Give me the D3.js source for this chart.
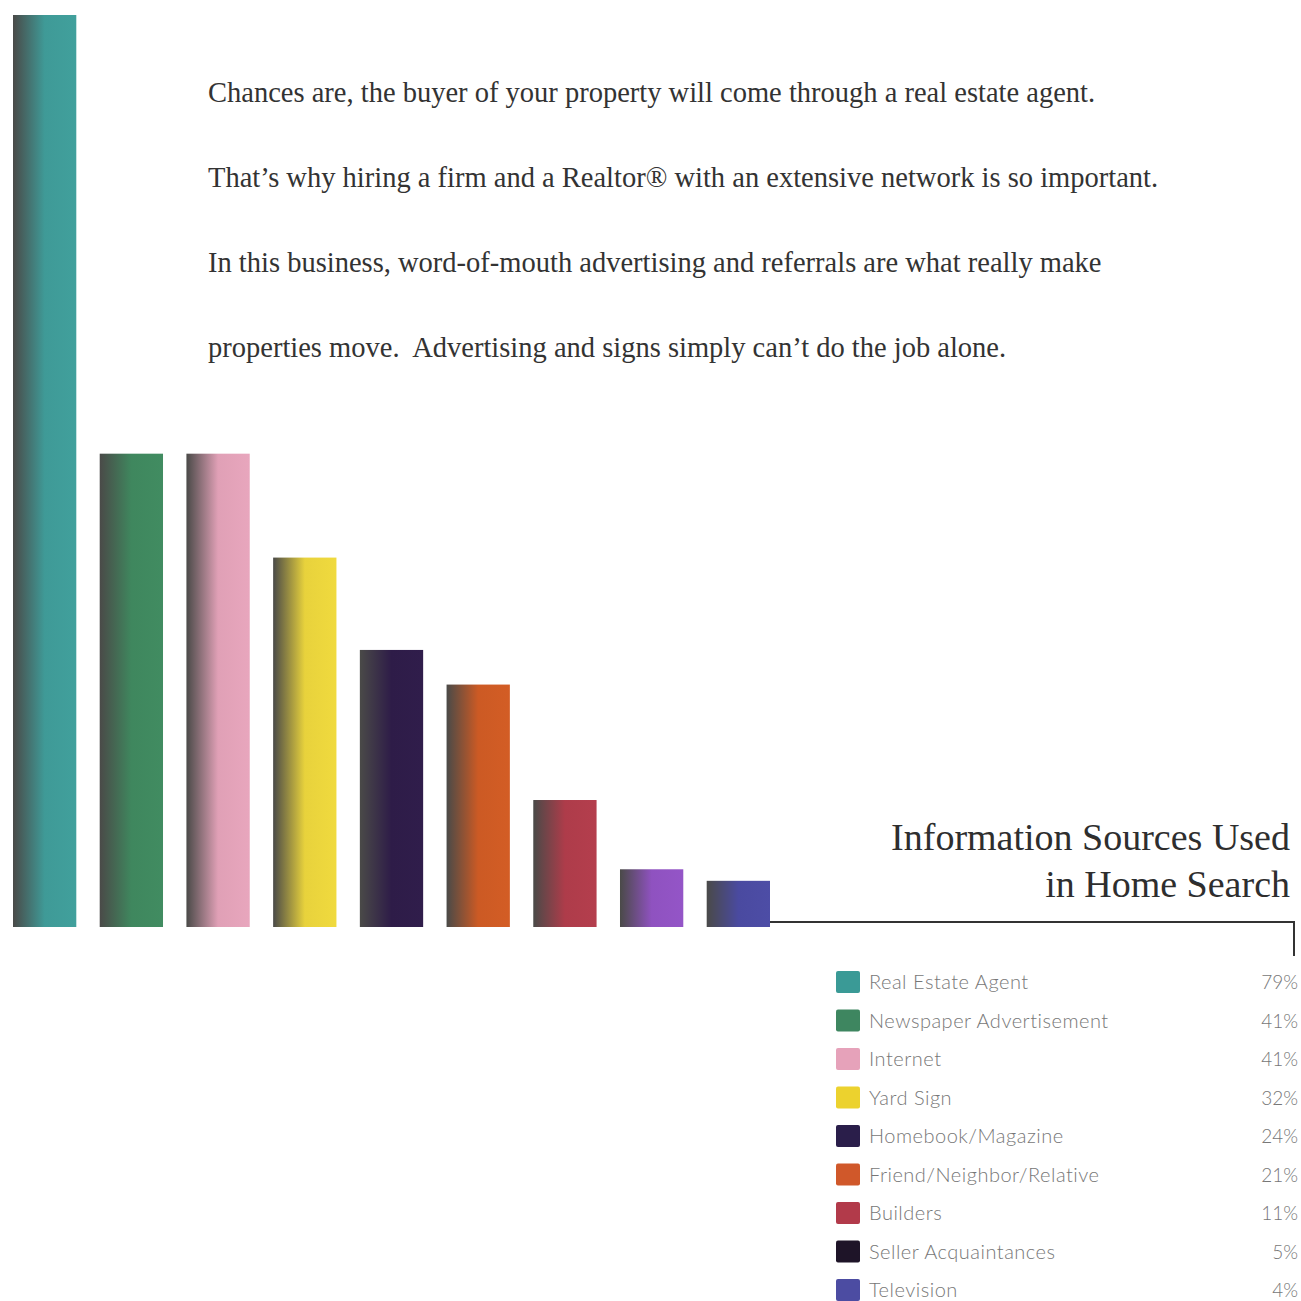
<!DOCTYPE html>
<html>
<head>
<meta charset="utf-8">
<script src="https://cdn.jsdelivr.net/npm/d3@7"></script>
<style>
  body { margin: 0; background: #fff; }
  svg { display: block; }
</style>
</head>
<body>
<svg width="1301" height="1301"></svg>
<script>
// data
const sources = ['Real Estate Agent', 'Newspaper Advertisement', 'Internet', 'Yard Sign',
  'Homebook/Magazine', 'Friend/Neighbor/Relative', 'Builders', 'Seller Acquaintances', 'Television'];
const percents = [79, 41, 41, 32, 24, 21, 11, 5, 4];
const barColors = ['#3f9a97', '#3f875e', '#e0a0b6', '#e8d23c', '#2e1c48', '#cc5a24', '#ae3c4a', '#8f52c0', '#4a4aa0'];
const swatchColors = ['#3a9a96', '#3e8660', '#e6a2ba', '#ecd22e', '#2a1e4a', '#d0582a', '#b23a4a', '#1e1428', '#4c4ca2'];
const paragraph = [
  'Chances are, the buyer of your property will come through a real estate agent.',
  'That\u2019s why hiring a firm and a Realtor\u00AE with an extensive network is so important.',
  'In this business, word-of-mouth advertising and referrals are what really make',
  'properties move.  Advertising and signs simply can\u2019t do the job alone.'
];
const titleLines = ['Information Sources Used', 'in Home Search'];

const svg = d3.select('svg');

const x = d3.scaleBand().domain(sources).range([13, 770]).paddingInner(0.27).paddingOuter(0);
const y = d3.scaleLinear().domain([0, 79]).range([927, 15]);

// gradients: dark gray on the left fading into the bar colour
const defs = svg.append('defs');
const grads = defs.selectAll('linearGradient')
  .data(barColors)
  .join('linearGradient')
  .attr('id', (d, i) => 'g' + i)
  .attr('x1', '0%').attr('x2', '100%').attr('y1', '0%').attr('y2', '0%');
grads.append('stop').attr('offset', '0%').attr('stop-color', '#4a4a48');
grads.append('stop').attr('offset', '50%').attr('stop-color', (d) => d);
grads.append('stop').attr('offset', '100%').attr('stop-color', (d) => d3.color(d).brighter(0.1));

svg.append('g')
  .selectAll('rect')
  .data(percents)
  .join('rect')
  .attr('x', (d, i) => x(sources[i]))
  .attr('y', (d) => y(d))
  .attr('width', x.bandwidth())
  .attr('height', (d) => y(0) - y(d))
  .attr('fill', (d, i) => `url(#g${i})`);

// paragraph
svg.append('g')
  .selectAll('text')
  .data(paragraph)
  .join('text')
  .attr('x', 208)
  .attr('y', (d, i) => 102 + i * 85)
  .text((d) => d)
  .style('white-space', 'pre')
  .style('font-family', '"Liberation Serif", serif')
  .style('font-size', '28.5px')
  .attr('fill', '#333');

// title
svg.append('g')
  .selectAll('text')
  .data(titleLines)
  .join('text')
  .attr('x', 1290)
  .attr('y', (d, i) => 850 + i * 47)
  .attr('text-anchor', 'end')
  .text((d) => d)
  .style('font-family', '"Liberation Serif", serif')
  .style('font-size', '38px')
  .attr('fill', '#2e2e2e');

// connector line
svg.append('path')
  .attr('d', `M${x(sources[8]) + x.bandwidth()},922 H1294 V956`)
  .attr('fill', 'none')
  .attr('stroke', '#333')
  .attr('stroke-width', 2);

// legend
const legend = svg.append('g');
const rowY = (i) => 982 + i * 38.5;
legend.selectAll('rect')
  .data(swatchColors)
  .join('rect')
  .attr('x', 836)
  .attr('y', (d, i) => rowY(i) - 11)
  .attr('width', 24)
  .attr('height', 22)
  .attr('rx', 2)
  .attr('fill', (d) => d);

legend.selectAll('text.lab')
  .data(sources)
  .join('text')
  .attr('class', 'lab')
  .attr('x', 869)
  .attr('y', (d, i) => rowY(i) + 7)
  .text((d) => d)
  .style('font-family', 'Lato, sans-serif')
  .style('font-weight', 300)
  .style('font-size', '20px')
  .style('letter-spacing', '0.5px')
  .attr('fill', '#777');

legend.selectAll('text.pct')
  .data(percents)
  .join('text')
  .attr('class', 'pct')
  .attr('x', 1298)
  .attr('y', (d, i) => rowY(i) + 7)
  .attr('text-anchor', 'end')
  .text((d) => d + '%')
  .style('font-family', 'Lato, sans-serif')
  .style('font-weight', 300)
  .style('font-size', '19px')
  .attr('fill', '#777');
</script>
</body>
</html>
